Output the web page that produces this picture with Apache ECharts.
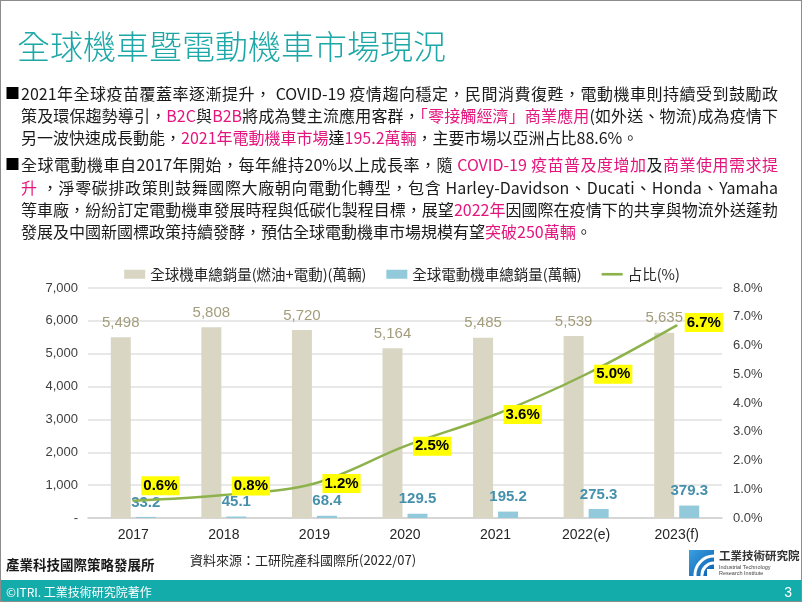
<!DOCTYPE html>
<html>
<head>
<meta charset="utf-8">
<script src="https://cdn.jsdelivr.net/npm/echarts@6/dist/echarts.min.js"></script>
<style>
  html, body { margin:0; padding:0; background:#fff; }
  #slide { position:relative; width:802px; height:602px; overflow:hidden; box-sizing:border-box; border:1px solid #8c8c8c; background:#fff;
    font-family:"Noto Sans CJK TC","Noto Sans CJK SC",sans-serif; }
  #chart { position:absolute; left:0; top:0; width:802px; height:602px; }
  .title { position:absolute; left:16px; top:25px; font-size:33px; line-height:38px; color:#1ea7a7; font-weight:300; white-space:nowrap; }
  .ln { position:absolute; left:20px; width:757px; font-size:16px; line-height:22px; color:#1a1a1a; }
  .j { text-align:justify; text-align-last:justify; }
  .bul { position:absolute; left:4px; font-size:15px; line-height:22px; color:#000; }
  .p { color:#e5157e; }
  .foot1 { position:absolute; left:5px; top:553px; font-size:13.5px; font-weight:bold; color:#1a1a1a; line-height:20px; white-space:nowrap; }
  .foot2 { position:absolute; left:189px; top:549px; font-size:13px; color:#262626; line-height:20px; white-space:nowrap; }
  .bar { position:absolute; left:0; top:579px; width:802px; height:23px; background:#13acab; }
  .copy { position:absolute; left:5px; top:582px; font-size:12px; color:#fff; line-height:18px; white-space:nowrap; }
  .pg { position:absolute; right:9px; top:582px; font-size:14px; color:#fff; line-height:18px; font-family:"Liberation Sans",Arial,sans-serif; }
  .logo { position:absolute; left:688px; top:549px; width:25px; height:26px; }
  .lt1 { position:absolute; left:718px; top:547px; font-size:11.5px; font-weight:bold; color:#333; line-height:14px; white-space:nowrap; }
  .lt2 { position:absolute; left:718px; top:563px; font-size:5.5px; color:#444; line-height:6px; white-space:nowrap; font-family:"Liberation Sans",Arial,sans-serif; }
</style>
</head>
<body>
<div id="slide">
  <div id="chart"></div>
  <div class="title">全球機車暨電動機車市場現況</div>

  <div class="bul" style="top:81px">■</div>
  <div class="ln j" style="top:81px">2021年全球疫苗覆蓋率逐漸提升， COVID-19 疫情趨向穩定，民間消費復甦，電動機車則持續受到鼓勵政</div>
  <div class="ln j" style="top:103px">策及環保趨勢導引，<span class="p">B2C</span>與<span class="p">B2B</span>將成為雙主流應用客群，<span class="p">「零接觸經濟」商業應用</span>(如外送、物流)成為疫情下</div>
  <div class="ln" style="top:125px">另一波快速成長動能，<span class="p">2021年電動機車市場</span>達<span class="p">195.2萬輛</span>，主要市場以亞洲占比88.6%。</div>

  <div class="bul" style="top:152px">■</div>
  <div class="ln j" style="top:152px">全球電動機車自2017年開始，每年維持20%以上成長率，隨 <span class="p">COVID-19 疫苗普及度增加</span>及<span class="p">商業使用需求提</span></div>
  <div class="ln j" style="top:175px"><span class="p">升</span> ，淨零碳排政策則鼓舞國際大廠朝向電動化轉型，包含 Harley-Davidson、Ducati、Honda、Yamaha</div>
  <div class="ln j" style="top:197px">等車廠，紛紛訂定電動機車發展時程與低碳化製程目標，展望<span class="p">2022年</span>因國際在疫情下的共享與物流外送蓬勃</div>
  <div class="ln" style="top:219px">發展及中國新國標政策持續發酵，預估全球電動機車市場規模有望<span class="p">突破250萬輛</span>。</div>

  <div class="foot1">產業科技國際策略發展所</div>
  <div class="foot2">資料來源：工研院產科國際所(2022/07)</div>
  <svg class="logo" viewBox="0 0 25 26">
    <defs><linearGradient id="lg" x1="0" y1="0" x2="1" y2="1"><stop offset="0" stop-color="#3aa0e0"/><stop offset="1" stop-color="#0a5fb0"/></linearGradient></defs>
    <rect x="0" y="0" width="25" height="26" fill="url(#lg)"/>
    <path d="M25,6 A19,19 0 0 0 6,26" stroke="#fff" stroke-width="3" fill="none"/>
    <path d="M25,13 A12,12 0 0 0 13,26" stroke="#fff" stroke-width="3" fill="none"/>
    <rect x="18" y="19" width="7" height="7" fill="#fff"/>
  </svg>
  <div class="lt1">工業技術研究院</div>
  <div class="lt2">Industrial Technology<br>Research Institute</div>

  <div class="bar"></div>
  <div class="copy">©ITRI. 工業技術研究院著作</div>
  <div class="pg">3</div>
</div>
<script>
// keep every body line on one row: shrink font slightly if a line would wrap
document.querySelectorAll('.ln').forEach(el => {
  let fs = 16;
  while (el.scrollHeight > 24 && fs > 13) { fs -= 0.25; el.style.fontSize = fs + 'px'; }
});

const categories = ['2017', '2018', '2019', '2020', '2021', '2022(e)', '2023(f)'];
const totalSales = [5498, 5808, 5720, 5164, 5485, 5539, 5635];
const evSales = [33.2, 45.1, 68.4, 129.5, 195.2, 275.3, 379.3];
const evShare = [0.6, 0.8, 1.2, 2.5, 3.6, 5.0, 6.7];
const leftTicks = ['-', '1,000', '2,000', '3,000', '4,000', '5,000', '6,000', '7,000'];
const rightTicks = ['0.0%', '1.0%', '2.0%', '3.0%', '4.0%', '5.0%', '6.0%', '7.0%', '8.0%'];
const seriesNames = ['全球機車總銷量(燃油+電動)(萬輛)', '全球電動機車總銷量(萬輛)', '占比(%)'];

const numFont = '"Liberation Sans", Arial, sans-serif';
const chart = echarts.init(document.getElementById('chart'), null, { renderer: 'canvas' });

const shareData = evShare.map((v, i) => {
  const extra = [-15, -9, 0, 0, 0, 0, -3][i];
  return extra ? { value: v, label: { offset: [0, extra] } } : v;
});

chart.setOption({
  animation: false,
  textStyle: { fontFamily: numFont },
  legend: {
    left: 'center',
    top: 261,
    itemGap: 20,
    itemWidth: 21,
    itemHeight: 9,
    textStyle: { fontSize: 14.5, color: '#262626', fontFamily: '"Noto Sans CJK TC", sans-serif' },
    data: [
      { name: seriesNames[0], icon: 'rect' },
      { name: seriesNames[1], icon: 'rect' },
      { name: seriesNames[2], icon: 'path://M0,0h24v3h-24z' }
    ]
  },
  grid: { left: 87, right: 81, top: 287, bottom: 85, containLabel: false },
  xAxis: {
    type: 'category',
    data: categories,
    axisTick: { show: false },
    axisLine: { lineStyle: { color: '#d0d0d0', width: 1.5 } },
    axisLabel: { fontSize: 14, color: '#262626', margin: 10, fontFamily: numFont }
  },
  yAxis: [
    {
      type: 'value', min: 0, max: 7000, interval: 1000,
      axisLine: { show: false }, axisTick: { show: false },
      splitLine: { lineStyle: { color: '#e0e0e0', width: 1.5 } },
      axisLabel: { fontSize: 13, color: '#404040', margin: 10, fontFamily: numFont,
        formatter: (v) => leftTicks[Math.round(v / 1000)] }
    },
    {
      type: 'value', min: 0, max: 8, interval: 1,
      axisLine: { show: false }, axisTick: { show: false },
      splitLine: { show: false },
      axisLabel: { fontSize: 13, color: '#404040', margin: 11, fontFamily: numFont,
        formatter: (v) => rightTicks[Math.round(v)] }
    }
  ],
  series: [
    {
      name: seriesNames[0], type: 'bar', data: totalSales, barWidth: 20, barGap: '25%',
      itemStyle: { color: '#d9d6c4' },
      label: { show: true, position: 'top', distance: 7, fontSize: 15, color: '#a39d7c', fontFamily: numFont,
        formatter: (p) => p.value.toLocaleString('en-US') }
    },
    {
      name: seriesNames[1], type: 'bar', data: evSales, barWidth: 20,
      itemStyle: { color: '#93cadb' },
      label: { show: true, position: 'top', distance: 7, fontSize: 15, color: '#4590ac', fontWeight: 'bold', fontFamily: numFont,
        formatter: (p) => p.value.toFixed(1) }
    },
    {
      name: seriesNames[2], type: 'line', yAxisIndex: 1, data: shareData, smooth: 0.35,
      symbol: 'circle', symbolSize: 2, showSymbol: true,
      itemStyle: { color: '#8db24c' },
      lineStyle: { color: '#8db24c', width: 2.5 },
      z: 5,
      label: { show: true, position: 'right', distance: 7, fontSize: 15, fontWeight: 'bold', color: '#000',
        backgroundColor: '#ffff00', padding: [2, 2, 1, 2], lineHeight: 16, fontFamily: numFont,
        formatter: (p) => p.value.toFixed(1) + '%' }
    }
  ]
});
</script>
</body>
</html>
